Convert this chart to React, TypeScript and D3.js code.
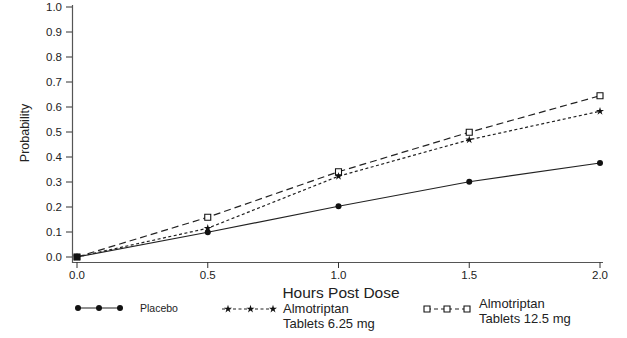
import React, { useEffect, useRef } from "react";
import * as d3 from "d3";

const hours = [0, 0.5, 1.0, 1.5, 2.0];
const placebo = [0, 0.099, 0.203, 0.301, 0.376];
const almo625 = [0, 0.115, 0.323, 0.469, 0.583];
const almo125 = [0, 0.159, 0.341, 0.499, 0.645];
const xTicks = [0, 0.5, 1.0, 1.5, 2.0];
const yTicks = [0, 0.1, 0.2, 0.3, 0.4, 0.5, 0.6, 0.7, 0.8, 0.9, 1.0];

const FONT = "'Liberation Sans', Arial, Helvetica, sans-serif";

export default function App() {
  const ref = useRef<SVGSVGElement>(null);
  useEffect(() => {
    const svg = d3.select(ref.current);
    svg.selectAll("*").remove();
    const x = d3.scaleLinear().domain([0, 2]).range([77, 600]);
    const y = d3.scaleLinear().domain([0, 1]).range([257, 7]);

    svg.append("line").attr("x1", 72.5).attr("x2", 72.5).attr("y1", 5).attr("y2", 263)
      .attr("stroke", "#555").attr("stroke-width", 1.2);
    svg.append("line").attr("x1", 72).attr("x2", 603).attr("y1", 262.5).attr("y2", 262.5)
      .attr("stroke", "#555").attr("stroke-width", 1.2);

    yTicks.forEach((t) => {
      svg.append("line").attr("x1", 66).attr("x2", 72).attr("y1", y(t)).attr("y2", y(t))
        .attr("stroke", "#333").attr("stroke-width", 1);
      svg.append("text").attr("x", 62).attr("y", y(t) + 4).attr("text-anchor", "end")
        .attr("font-family", FONT).attr("font-size", 11.5).attr("fill", "#222").text(t.toFixed(1));
    });
    xTicks.forEach((t) => {
      svg.append("line").attr("x1", x(t)).attr("x2", x(t)).attr("y1", 262).attr("y2", 268)
        .attr("stroke", "#333").attr("stroke-width", 1);
      svg.append("text").attr("x", x(t)).attr("y", 279).attr("text-anchor", "middle")
        .attr("font-family", FONT).attr("font-size", 11.5).attr("fill", "#222").text(t.toFixed(1));
    });

    svg.append("text").attr("transform", "translate(29,133) rotate(-90)").attr("text-anchor", "middle")
      .attr("font-family", FONT).attr("font-size", 12.5).attr("fill", "#222").text("Probability");
    svg.append("text").attr("x", 341).attr("y", 298).attr("text-anchor", "middle")
      .attr("font-family", FONT).attr("font-size", 15.5).attr("fill", "#222").text("Hours Post Dose");

    const series = [
      { vals: placebo, dash: null, kind: "circle" },
      { vals: almo625, dash: "3,2.5", kind: "star" },
      { vals: almo125, dash: "7,4", kind: "square" },
    ];
    const line = d3.line<number>().x((_, i) => x(hours[i])).y((v) => y(v));

    const drawMarker = (g: any, kind: string, cx: number, cy: number) => {
      if (kind === "circle") {
        g.append("circle").attr("cx", cx).attr("cy", cy).attr("r", 3).attr("fill", "#111");
      } else if (kind === "star") {
        g.append("path").attr("d", d3.symbol().type(d3.symbolStar).size(20)()!)
          .attr("transform", `translate(${cx},${cy})`).attr("fill", "#111");
      } else {
        g.append("path").attr("d", d3.symbol().type(d3.symbolSquare).size(36)()!)
          .attr("transform", `translate(${cx},${cy})`).attr("fill", "#fff")
          .attr("stroke", "#111").attr("stroke-width", 1.1);
      }
    };

    series.forEach((s) => {
      const p = svg.append("path").attr("d", line(s.vals)!).attr("fill", "none")
        .attr("stroke", "#222").attr("stroke-width", 1.2);
      if (s.dash) p.attr("stroke-dasharray", s.dash);
    });
    series.slice().reverse().forEach((s) => {
      s.vals.forEach((v, i) => drawMarker(svg, s.kind, x(hours[i]), y(v)));
    });
    svg.append("path").attr("d", d3.symbol().type(d3.symbolSquare).size(40)()!)
      .attr("transform", `translate(${x(0)},${y(0)})`).attr("fill", "#111");

    const leg = [
      { kind: "circle", dash: null, x0: 78, x1: 120, y: 308, labels: ["Placebo"], tx: 140, ty: 312, fs: 10.5 },
      { kind: "star", dash: "3,2.5", x0: 228, x1: 273, y: 309, labels: ["Almotriptan", "Tablets 6.25 mg"], tx: 283, ty: 313, fs: 13 },
      { kind: "square", dash: "4,3", x0: 427, x1: 467, y: 309, labels: ["Almotriptan", "Tablets 12.5 mg"], tx: 479, ty: 308, fs: 13 },
    ];
    leg.forEach((l) => {
      const ln = svg.append("line").attr("x1", l.x0 - (l.kind === "star" ? 6 : 0)).attr("x2", l.x1).attr("y1", l.y).attr("y2", l.y)
        .attr("stroke", "#222").attr("stroke-width", 1.2);
      if (l.dash) ln.attr("stroke-dasharray", l.dash);
      [l.x0, (l.x0 + l.x1) / 2, l.x1].forEach((mx) => drawMarker(svg, l.kind, mx, l.y));
      l.labels.forEach((t, i) => {
        svg.append("text").attr("x", l.tx).attr("y", l.ty + i * 15).attr("font-family", FONT)
          .attr("font-size", l.fs).attr("fill", "#222").text(t);
      });
    });
  }, []);
  return (
    <svg ref={ref} width={627} height={338} style={{ position: "absolute", left: 0, top: 0, background: "#fff" }} />
  );
}
